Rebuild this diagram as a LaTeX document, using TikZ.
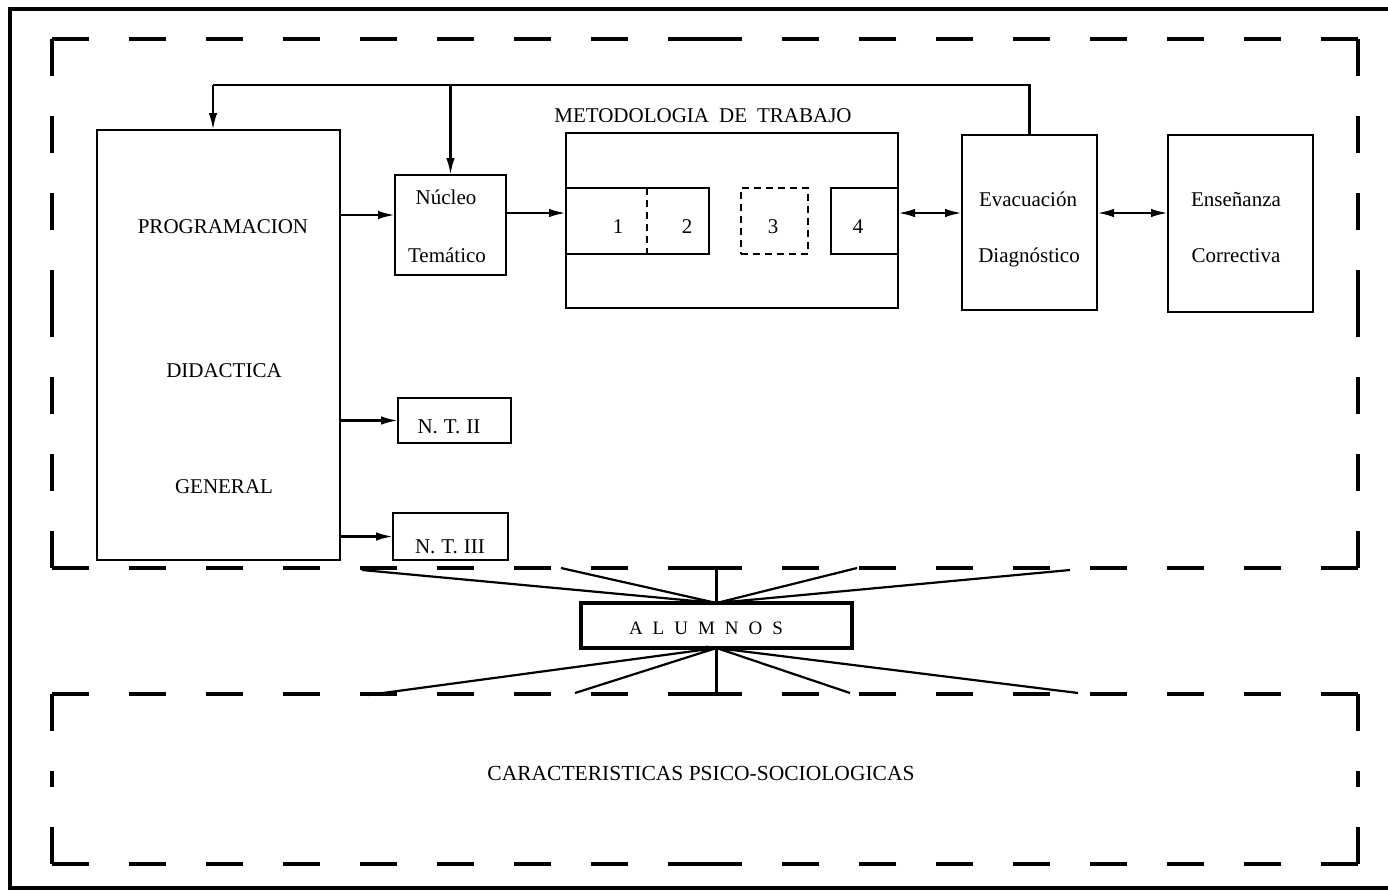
\documentclass[tikz,border=0pt]{standalone}
\usepackage{fontspec}
\setmainfont{Liberation Serif}
\usetikzlibrary{arrows.meta}
\newcommand\lsp{\hspace{10pt}}
\newcommand\dfr[4]{%
  \draw[dfrm] (#1,#2) -- ({(#1+#3)/2},#2);
  \draw[dfrm] (#3,#2) -- ({(#1+#3)/2},#2);
  \draw[dfrm] (#1,#4) -- ({(#1+#3)/2},#4);
  \draw[dfrm] (#3,#4) -- ({(#1+#3)/2},#4);
  \draw[dfrm] (#1,#2) -- (#1,{(#2+#4)/2});
  \draw[dfrm] (#1,#4) -- (#1,{(#2+#4)/2});
  \draw[dfrm] (#3,#2) -- (#3,{(#2+#4)/2});
  \draw[dfrm] (#3,#4) -- (#3,{(#2+#4)/2});
}
\begin{document}
\begin{tikzpicture}[x=1pt,y=-1pt,
  box/.style={draw,line width=2.4pt,inner sep=0pt,outer sep=0pt},
  dbox/.style={box,dash pattern=on 7pt off 5pt},
  txt/.style={font=\fontsize{21}{25}\selectfont,inner sep=0pt,anchor=base},
  ln/.style={line width=2.4pt},
  ray/.style={line width=2.2pt},
  arr/.style={line width=2.4pt,-{Latex[length=17pt,width=8.5pt]}},
  darr/.style={line width=2.4pt,{Latex[length=17pt,width=8.5pt]}-{Latex[length=17pt,width=8.5pt]}},
  dfrm/.style={line width=3.4pt,dash pattern=on 37pt off 40pt},
  frame/.style={line width=4pt}]
\useasboundingbox (0,0) rectangle (1388,891);
\fill[white] (0,0) rectangle (1388,891);

% outer frame
\draw[frame] (1388,9) -- (10,9) -- (10,888) -- (1388,888);

% dashed areas
\dfr{52}{39}{1358}{568}
\dfr{52}{694}{1358}{864}

% boxes
\node[box,minimum width=243pt,minimum height=430pt] (prog) at (218.5,345) {};
\node[box,minimum width=111pt,minimum height=100pt] (nucleo) at (450.5,225) {};
\node[box,minimum width=332pt,minimum height=175pt] (metod) at (732,220.5) {};
\node[box,minimum width=143pt,minimum height=66pt] (b12) at (637.5,221) {};
\node[dbox,minimum width=67pt,minimum height=66pt] (b3) at (774.5,221) {};
\node[box,minimum width=67pt,minimum height=66pt] (b4) at (864.5,221) {};
\node[box,minimum width=135pt,minimum height=175pt] (evac) at (1029.5,222.5) {};
\node[box,minimum width=145pt,minimum height=177pt] (ense) at (1240.5,223.5) {};
\node[box,minimum width=113pt,minimum height=45pt] (nt2) at (454.5,420.5) {};
\node[box,minimum width=115pt,minimum height=47pt] (nt3) at (450.5,536.5) {};
\node[box,line width=4pt,minimum width=271pt,minimum height=45pt] (alum) at (716.5,625.5) {};

% divider between 1 and 2
\draw[ln,dash pattern=on 7pt off 5pt] (b12.north -| 647,0) -- (b12.south -| 647,0);

% texts
\node[txt] (tprog) at (223,233) {PROGRAMACION};
\node[txt] (tdid) at (224,377) {DIDACTICA};
\node[txt] (tgen) at (224,493) {GENERAL};
\node[txt] (tnuc1) at (446,204) {Núcleo};
\node[txt] (tnuc2) at (447,262) {Temático};
\node[txt] (tmet) at (703,122) {METODOLOGIA\hspace{10pt}DE\hspace{10pt}TRABAJO};
\node[txt] (t1) at (618,233) {1};
\node[txt] (t2) at (687,233) {2};
\node[txt] (t3) at (773,233) {3};
\node[txt] (t4) at (858,233) {4};
\node[txt] (tev1) at (1028,206) {Evacuación};
\node[txt] (tev2) at (1029,262) {Diagnóstico};
\node[txt] (ten1) at (1236,206) {Enseñanza};
\node[txt] (ten2) at (1236,262) {Correctiva};
\node[txt] (tnt2) at (449,433) {N.\hspace{6pt}T.\hspace{6pt}II};
\node[txt] (tnt3) at (450,553) {N.\hspace{6pt}T.\hspace{6pt}III};
\node[txt,font=\fontsize{19}{23}\selectfont] (talum) at (706,634) {A\lsp L\lsp U\lsp M\lsp N\lsp O\lsp S};
\node[txt,font=\fontsize{21.5}{25}\selectfont] (tcar) at (701,780) {CARACTERISTICAS PSICO-SOCIOLOGICAS};

% coordinates
\coordinate (top) at (0,85);
\coordinate (progin) at ([xshift=-5.5pt]prog.north);
\coordinate (nucin) at ([yshift=10pt]nucleo.west);
\coordinate (metin) at (metod.west |- 0,213);
\coordinate (b4out) at (b4.east |- 0,213);
\coordinate (evin) at (evac.west |- 0,213);
\coordinate (evout) at (evac.east |- 0,213);
\coordinate (enin) at (ense.west |- 0,213);
\coordinate (u1) at (362,570);
\coordinate (u2) at (561,568);
\coordinate (u3) at (857,568);
\coordinate (u4) at (1070,570);
\coordinate (l1) at (368,695);
\coordinate (l2) at (575,693);
\coordinate (l3) at (850,693);
\coordinate (l4) at (1078,693);
\coordinate (vtop) at (alum.north |- 0,569);
\coordinate (vbot) at (alum.south |- 0,694);

% connectors
\draw[ln] (evac.north) -- (evac.north |- top) -- (progin |- top);
\draw[arr] (progin |- top) -- (progin);
\draw[arr] (nucleo.north |- top) -- (nucleo.north);
\draw[arr] (prog.east |- nucin) -- (nucin);
\draw[arr] (nucleo.east |- metin) -- (metin);
\draw[darr] (b4out) -- (evin);
\draw[darr] (evout) -- (enin);
\draw[arr] (prog.east |- nt2.west) -- (nt2.west);
\draw[arr] (prog.east |- nt3.west) -- (nt3.west);

% ALUMNOS rays
\draw[ray] (u1) -- (alum.north) -- (u2);
\draw[ray] (u3) -- (alum.north) -- (u4);
\draw[ray] (vtop) -- (alum.north);
\draw[ray] (l1) -- (alum.south) -- (l2);
\draw[ray] (l3) -- (alum.south) -- (l4);
\draw[ray] (alum.south) -- (vbot);
\end{tikzpicture}
\end{document}
